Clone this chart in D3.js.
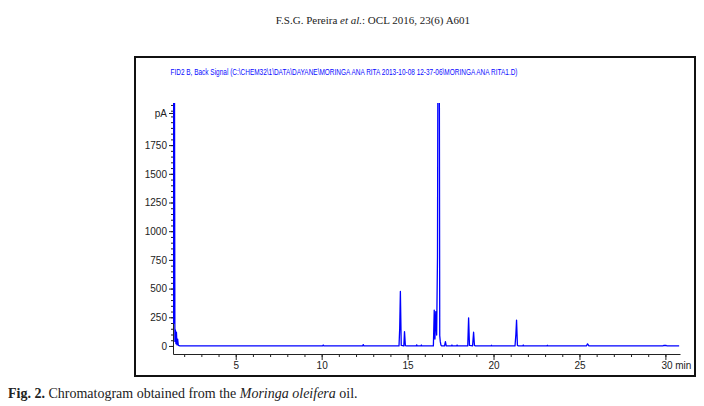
<!DOCTYPE html>
<html>
<head>
<meta charset="utf-8">
<script src="https://cdn.jsdelivr.net/npm/d3@7"></script>
<style>
  body { margin: 0; background: #fff; }
  svg { display: block; }
</style>
</head>
<body>
<div class="chrom-container"></div>
<script>
// trace vertices (time in min, signal in pA)
const traceTime = [
  1.35, 1.37, 1.39, 1.41, 1.43, 1.46, 1.49, 1.52, 1.55, 1.58, 1.62, 1.66, 1.75,
  10.05, 10.09, 10.13,
  12.38, 12.42, 12.46,
  14.50, 14.54, 14.58, 14.63, 14.78, 14.82, 14.87, 14.95,
  15.50, 15.53, 15.56, 15.77, 15.80, 15.83,
  16.50, 16.55, 16.59, 16.64, 16.69, 16.74, 16.81, 16.87, 16.90, 16.94, 16.98,
  17.15, 17.20, 17.25, 17.55, 17.58, 17.61, 17.85, 17.88, 17.91,
  18.50, 18.55, 18.60, 18.78, 18.84, 18.89, 18.95,
  19.85, 19.88, 19.91,
  21.25, 21.30, 21.34, 21.39, 21.45,
  21.70, 21.73, 21.76,
  23.10, 23.13, 23.16,
  25.40, 25.47, 25.55,
  29.85, 29.90, 30.05, 30.10,
  30.80
];
const traceSignal = [
  3000, 200, 3000, 200, 3000, 40, 140, 20, 120, 10, 60, 5, 0,
  0, 8, 0,
  0, 12, 0,
  0, 150, 475, 5, 0, 125, 3, 0,
  0, 10, 0, 0, 8, 0,
  0, 313, 60, 300, 95, 780, 6000, 90, 40, 8, 0,
  0, 38, 0, 0, 8, 0, 0, 8, 0,
  0, 245, 5, 0, 120, 5, 0,
  0, 6, 0,
  0, 100, 225, 5, 0,
  0, 8, 0,
  0, 6, 0,
  0, 18, 0,
  0, 4, 4, 0,
  0
];

// axis ticks
const xMajorTicks = [5, 10, 15, 20, 25, 30];
const xMinorTicks = d3.range(2, 31);
const yMajorTicks = [0, 250, 500, 750, 1000, 1250, 1500, 1750];
const yMinorTicks = d3.range(0, 2101, 50);

const signalTitle = 'FID2 B, Back Signal (C:\\CHEM32\\1\\DATA\\DAYANE\\MORINGA ANA RITA 2013-10-08 12-37-06\\MORINGA ANA RITA1.D)';

function drawChart(){
    const svg = d3.select('.chrom-container')
                  .append('svg')
                  .attr('width', 704).attr('height', 406);

    svg.append('rect').attr('width', 704).attr('height', 406).attr('fill', '#fff');

    // page header
    const header = svg.append('text')
                      .attr('x', 373).attr('y', 24)
                      .attr('text-anchor', 'middle')
                      .style('font-family', '"Liberation Serif", "Times New Roman", serif')
                      .style('font-size', '11px')
                      .style('fill', '#222');
    header.append('tspan').text('F.S.G. Pereira ');
    header.append('tspan').text('et al.').style('font-style', 'italic');
    header.append('tspan').text(': OCL 2016, 23(6) A601');

    // figure frame
    svg.append('rect')
       .attr('x', 135).attr('y', 57).attr('width', 560).attr('height', 319)
       .attr('fill', 'none').attr('stroke', '#111').attr('stroke-width', 2);

    svg.append('text')
       .attr('x', 170.5).attr('y', 75)
       .attr('textLength', 347).attr('lengthAdjust', 'spacingAndGlyphs')
       .style('font-family', '"Liberation Sans Narrow", "Liberation Sans", Arial, sans-serif')
       .style('font-size', '9.5px')
       .style('fill', '#0a0aff')
       .text(signalTitle);

    // scales
    const xScale = d3.scaleLinear().domain([1.35, 30.85]).range([173, 680]);
    const yScale = d3.scaleLinear().domain([-70, 2117]).range([354, 103]);

    svg.append('clipPath').attr('id', 'plot-clip')
       .append('rect').attr('x', 173).attr('y', 103).attr('width', 510).attr('height', 251);

    const axisFont = g => g.selectAll('text')
                          .style('font-family', '"Liberation Sans", Arial, sans-serif')
                          .style('font-size', '10px')
                          .style('fill', '#222');

    // x axis: minor ticks every minute, labelled every 5
    svg.append('g').attr('transform', 'translate(0,354)')
       .call(d3.axisBottom(xScale).tickValues(xMinorTicks).tickSize(3).tickFormat(''))
       .call(g => g.select('.domain').remove())
       .call(g => g.selectAll('line').attr('stroke', '#222'));
    const xAxisDraw = svg.append('g').attr('transform', 'translate(0,354)')
       .call(d3.axisBottom(xScale).tickValues(xMajorTicks).tickSize(6).tickSizeOuter(0).tickPadding(2)
               .tickFormat(d => d === 30 ? '30 min' : d))
       .call(axisFont);
    xAxisDraw.select('.domain').attr('stroke', '#222');
    xAxisDraw.selectAll('line').attr('stroke', '#222');
    xAxisDraw.selectAll('.tick').filter(d => d === 30).select('text').attr('dx', '1.05em');

    // y axis
    svg.append('g').attr('transform', 'translate(173,0)')
       .call(d3.axisLeft(yScale).tickValues(yMinorTicks).tickSize(2).tickFormat(''))
       .call(g => g.select('.domain').remove())
       .call(g => g.selectAll('line').attr('stroke', '#222'));
    const yAxisDraw = svg.append('g').attr('transform', 'translate(173,0)')
       .call(d3.axisLeft(yScale).tickValues(yMajorTicks.concat([2030])).tickSize(4).tickSizeOuter(0).tickPadding(2)
               .tickFormat(d => d === 2030 ? 'pA' : d))
       .call(axisFont);
    yAxisDraw.select('.domain').attr('stroke', '#222');
    yAxisDraw.selectAll('line').attr('stroke', '#222');

    // signal trace
    const trace = traceTime.map((t, i) => [t, traceSignal[i]]);
    const line = d3.line().x(d => xScale(d[0])).y(d => yScale(d[1]));
    svg.append('path')
       .datum(trace)
       .attr('clip-path', 'url(#plot-clip)')
       .attr('d', line)
       .attr('fill', 'none')
       .attr('stroke', '#0000ff')
       .attr('stroke-width', 1.3)
       .attr('stroke-linejoin', 'round');

    // caption
    const caption = svg.append('text')
                       .attr('x', 8).attr('y', 398)
                       .style('font-family', '"Liberation Serif", "Times New Roman", serif')
                       .style('font-size', '14px')
                       .style('fill', '#222');
    caption.append('tspan').text('Fig. 2.').style('font-weight', 'bold');
    caption.append('tspan').text(' Chromatogram obtained from the ');
    caption.append('tspan').text('Moringa oleifera').style('font-style', 'italic');
    caption.append('tspan').text(' oil.');
}

drawChart();
</script>
</body>
</html>
